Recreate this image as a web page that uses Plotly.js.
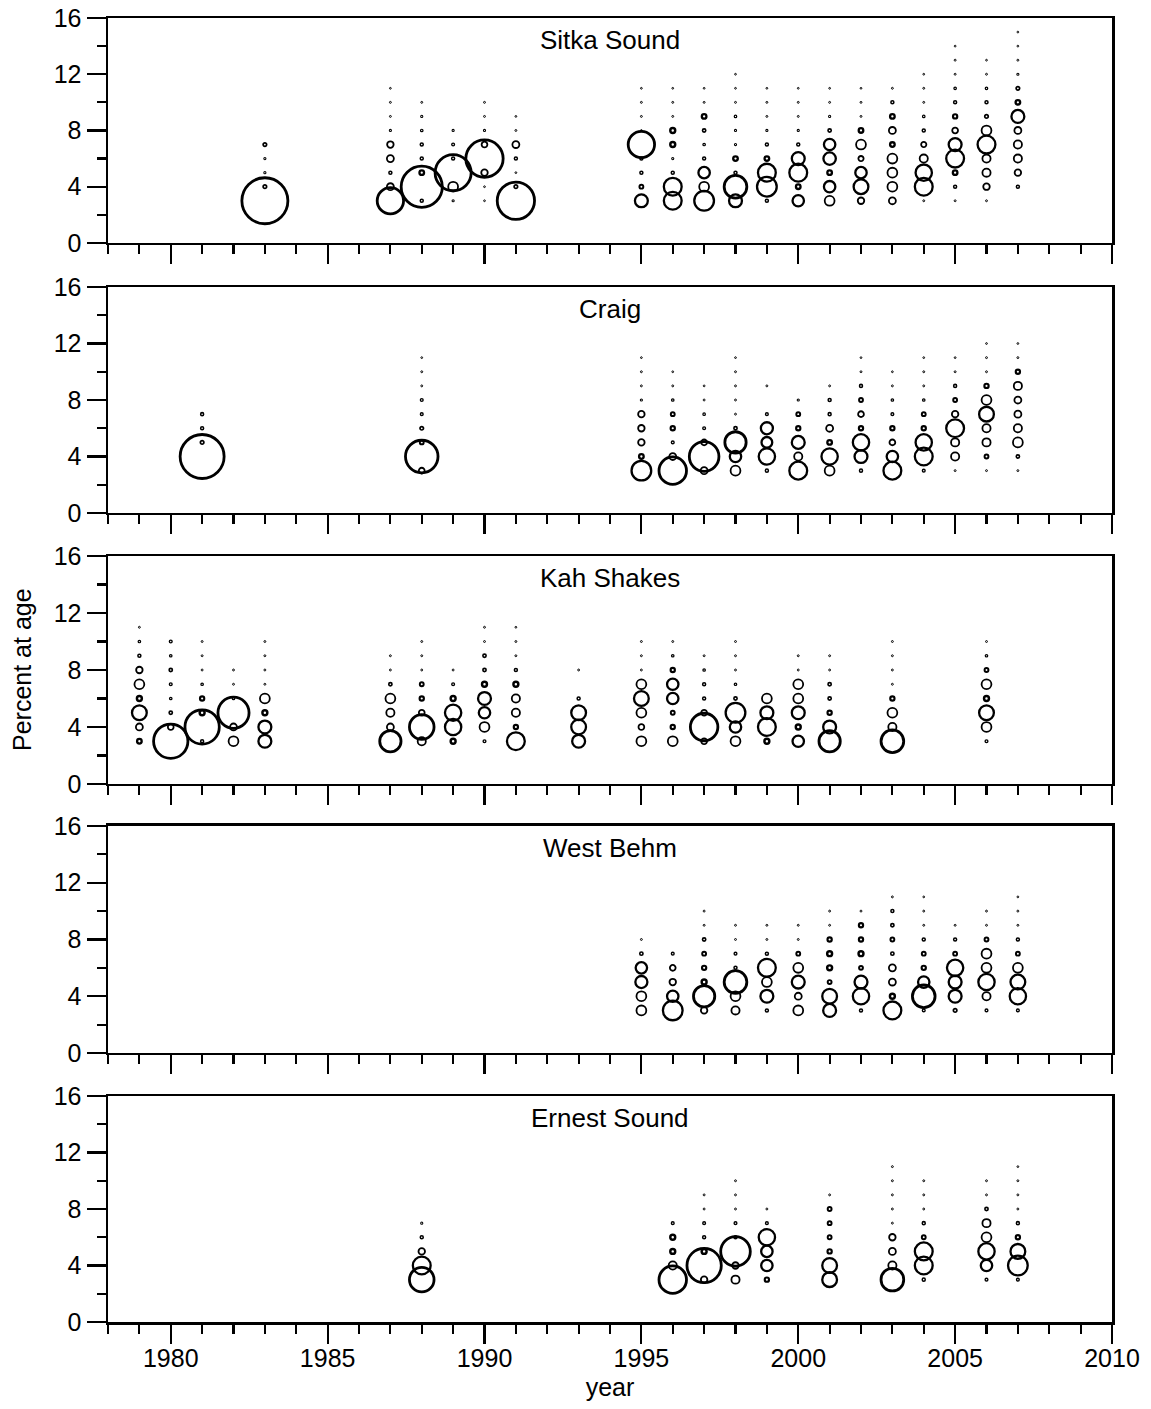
<!DOCTYPE html>
<html><head><meta charset="utf-8">
<script src="https://cdn.plot.ly/plotly-3.0.1.min.js"></script>
<style>body{margin:0;background:#fff}#chart{width:1151px;height:1409px}</style>
</head><body><div id="chart"></div>
<script>
// Age composition (percent at age), each inner list starts at age 3
const firstAge = 3;
const panelNames = ['Sitka Sound', 'Craig', 'Kah Shakes', 'West Behm', 'Ernest Sound'];

const sitkaYears = [1983, 1987, 1988, 1989, 1990, 1991, 1995, 1996, 1997, 1998, 1999, 2000, 2001, 2002, 2003, 2004, 2005, 2006, 2007];
const sitkaPct = [
  [70, 0.4, 0.15, 0.15, 0.4],
  [23, 1.6, 0.3, 1.6, 1.4, 0.15, 0.12, 0.12, 0.1],
  [0.3, 56, 0.7, 0.3, 0.3, 0.2, 0.15, 0.12],
  [0.15, 3.2, 43, 0.3, 0.25, 0.15],
  [0.1, 0.1, 1.4, 46, 1.1, 0.15, 0.12, 0.12],
  [46, 0.4, 0.1, 0.3, 1.6, 0.12, 0.1],
  [5.5, 0.5, 0.3, 0.3, 23, 0.1, 0.12, 0.12, 0.1],
  [10.5, 10.5, 0.3, 0.15, 0.8, 0.8, 0.12, 0.12, 0.1],
  [12.8, 3.2, 4.3, 0.3, 0.2, 0.35, 0.7, 0.12, 0.1],
  [5.5, 17, 0.3, 0.7, 0.15, 0.15, 0.2, 0.12, 0.1, 0.1],
  [0.3, 12.8, 10.5, 0.7, 0.3, 0.15, 0.12, 0.12, 0.1],
  [4.3, 0.7, 10.5, 5.5, 0.3, 0.15, 0.12, 0.12, 0.1],
  [3.2, 4.3, 0.7, 5.1, 4.3, 0.35, 0.15, 0.12, 0.1],
  [1.4, 7.2, 4.3, 0.9, 3.2, 0.7, 0.12, 0.12, 0.1],
  [1.6, 3.2, 3.2, 3.2, 0.7, 1.6, 0.7, 0.3, 0.12],
  [0.12, 10.5, 8.8, 2.2, 0.9, 0.3, 0.2, 0.12, 0.12, 0.1],
  [0.12, 0.3, 0.7, 10.5, 5.5, 1.1, 0.6, 0.3, 0.2, 0.12, 0.12, 0.1],
  [0.12, 1.4, 2.2, 2.2, 10.5, 3.2, 0.4, 0.3, 0.2, 0.12, 0.1],
  [0, 0.3, 1.4, 2.2, 2.2, 1.6, 5.5, 0.7, 0.4, 0.15, 0.12, 0.1, 0.1]
];

const craigYears = [1981, 1988, 1995, 1996, 1997, 1998, 1999, 2000, 2001, 2002, 2003, 2004, 2005, 2006, 2007];
const craigPct = [
  [0, 64, 0.4, 0.3, 0.3],
  [1.1, 35, 0.5, 0.4, 0.25, 0.25, 0.12, 0.12, 0.1],
  [12.8, 0.7, 1.4, 1.4, 1.4, 0.15, 0.12, 0.12, 0.1],
  [25, 1.6, 0.25, 0.6, 0.5, 0.2, 0.12, 0.1],
  [1.6, 29, 1.1, 0.25, 0.2, 0.12, 0.1],
  [3.2, 4.3, 15, 0.35, 0.12, 0.12, 0.12, 0.12, 0.1],
  [0.3, 8.8, 3.8, 4.8, 0.25, 0, 0.12],
  [10.5, 2.2, 5.5, 0.6, 0.5, 0.15],
  [3.2, 8.8, 0.7, 1.6, 0.3, 0.3, 0.12],
  [0.3, 5.5, 8.8, 0.6, 1.1, 0.5, 0.3, 0.12, 0.1],
  [10.5, 4.3, 1.1, 0.6, 0.25, 0.2, 0.12, 0.1],
  [0.25, 10.5, 8.8, 0.6, 0.5, 0.2, 0.12, 0.12, 0.1],
  [0.12, 2.2, 2.2, 10.5, 1.4, 0.5, 0.3, 0.12, 0.1],
  [0.12, 0.5, 2.2, 2.2, 7.2, 3.2, 0.6, 0.12, 0.12, 0.1],
  [0.12, 0.35, 3.2, 2.2, 1.6, 1.6, 2.2, 0.6, 0.12, 0.1]
];

const kahYears = [1979, 1980, 1981, 1982, 1983, 1987, 1988, 1989, 1990, 1991, 1993, 1995, 1996, 1997, 1998, 1999, 2000, 2001, 2003, 2006];
const kahPct = [
  [0.7, 1.6, 7.2, 0.8, 3.2, 1.4, 0.3, 0.2, 0.12],
  [39, 1.1, 0.35, 0.2, 0.25, 0.35, 0.2, 0.25],
  [0.3, 39, 0.8, 0.6, 0.2, 0.12, 0.12, 0.12],
  [3.2, 1.6, 32, 0.2, 0.12, 0.12],
  [5.5, 5.5, 0.8, 3.2, 0.12, 0.12, 0.12, 0.12],
  [15, 1.6, 2.2, 3.2, 0.35, 0.12, 0.12],
  [2.2, 20, 1.1, 0.6, 0.5, 0.12, 0.12, 0.12],
  [0.8, 8.8, 8.8, 0.8, 0.25, 0.12],
  [0.25, 3.2, 4.3, 5.5, 0.8, 0.35, 0.35, 0.12, 0.12],
  [10.5, 0.6, 2.2, 2.2, 0.8, 0.3, 0.12, 0.12, 0.1],
  [5.5, 7.2, 7.2, 0.3, 0, 0.12],
  [3.2, 1.1, 3.2, 7.2, 3.2, 0.12, 0.12, 0.12],
  [3.2, 0.6, 0.5, 4.3, 4.3, 0.6, 0.2, 0.12],
  [1.1, 25, 1.1, 0.3, 0.3, 0.2, 0.12],
  [3.2, 4.3, 12.8, 0.35, 0.2, 0.12, 0.12, 0.12],
  [0.8, 10.5, 5.5, 3.2],
  [4.3, 0.8, 5.5, 3.2, 3.2, 0.12, 0.12],
  [15, 5.5, 0.6, 0.35, 0.35, 0.12, 0.12],
  [17, 2.2, 3.2, 0.6, 0.12, 0.12, 0.12, 0.12],
  [0.25, 3.2, 7.2, 0.8, 3.2, 0.5, 0.2, 0.12]
];

const behmYears = [1995, 1996, 1997, 1998, 1999, 2000, 2001, 2002, 2003, 2004, 2005, 2006, 2007];
const behmPct = [
  [3.2, 3.2, 4.8, 4.3, 0.35, 0.12],
  [12.8, 4.3, 1.4, 1.1, 0.25],
  [1.4, 15, 0.8, 0.6, 0.5, 0.35, 0.12, 0.12],
  [2.2, 3.2, 17, 0.3, 0.25, 0.12, 0.12],
  [0.3, 5.5, 3.2, 10.5, 0.3, 0.12, 0.12],
  [3.2, 1.6, 5.5, 3.2, 0.5, 0.12, 0.12],
  [5.5, 7.2, 0.5, 0.8, 0.8, 0.6, 0.12, 0.12],
  [0.3, 8.8, 5.5, 0.5, 0.8, 0.6, 0.6, 0.12],
  [10.5, 0.8, 1.6, 1.6, 0.35, 0.5, 0.35, 0.3, 0.12],
  [0.25, 17, 4.3, 0.6, 0.5, 0.3, 0.12, 0.12, 0.1],
  [0.4, 5.5, 5.5, 8.8, 0.5, 0.3, 0.12],
  [0.25, 2.2, 8.8, 3.2, 3.2, 0.5, 0.12, 0.12],
  [0.25, 8.8, 7.2, 3.2, 0.5, 0.3, 0.12, 0.12, 0.1]
];

const ernestYears = [1988, 1996, 1997, 1998, 1999, 2001, 2003, 2004, 2006, 2007];
const ernestPct = [
  [20, 10.5, 1.4, 0.3, 0.15],
  [25, 2.2, 0.8, 0.8, 0.25],
  [1.4, 39, 0.8, 0.3, 0.25, 0.12, 0.12],
  [2.2, 1.4, 29, 0.3, 0.25, 0.12, 0.12, 0.12],
  [0.6, 4.3, 4.3, 8.8, 0.25, 0.12],
  [7.2, 7.2, 0.6, 0.5, 0.5, 0.5, 0.12],
  [17, 2.2, 1.6, 1.4, 0.12, 0.12, 0.12, 0.12, 0.12],
  [0.3, 10.5, 10.5, 0.5, 0.3, 0.12, 0.12, 0.12],
  [0.25, 4.3, 8.8, 3.2, 2.2, 0.35, 0.12, 0.12],
  [0.25, 12.8, 7.2, 0.6, 0.3, 0.12, 0.12, 0.12, 0.1]
];

const yearTicks = [1980, 1985, 1990, 1995, 2000, 2005, 2010];
const ageTicks = [0, 4, 8, 12, 16];

// ---------- build figure ----------
const panelYears = [sitkaYears, craigYears, kahYears, behmYears, ernestYears];
const panelPct = [sitkaPct, craigPct, kahPct, behmPct, ernestPct];
const domains = [[0.8275, 1.0], [0.6204, 0.7937], [0.4126, 0.5874], [0.2063, 0.3804], [0.0, 0.1733]];
const FONT = 'Liberation Sans, Arial, Helvetica, sans-serif';
const SCALE = 5.5;

const traces = [];
panelNames.forEach((name, i) => {
  const x = [], y = [], s = [], lw = [];
  panelYears[i].forEach((yr, j) => {
    panelPct[i][j].forEach((p, k) => {
      if (p > 0) {
        const d = SCALE * Math.sqrt(p);
        x.push(yr); y.push(firstAge + k); s.push(d);
        lw.push(d >= 20 ? 2.8 : d >= 10 ? 2.3 : d >= 5 ? 1.8 : Math.max(1.0, d * 0.5));
      }
    });
  });
  traces.push({
    type: 'scatter', mode: 'markers', x: x, y: y,
    xaxis: 'x' + (i + 1), yaxis: 'y' + (i + 1),
    marker: { symbol: 'circle-open', size: s, color: '#000', opacity: 1, line: { color: '#000', width: lw } },
    hoverinfo: 'skip', showlegend: false
  });
});

const layout = {
  width: 1151, height: 1409,
  margin: { l: 108, r: 39, t: 18, b: 87 },
  paper_bgcolor: '#fff', plot_bgcolor: '#fff',
  font: { family: FONT, size: 24, color: '#000' },
  showlegend: false,
  annotations: [],
  hovermode: false
};

panelNames.forEach((name, i) => {
  const n = i + 1;
  const last = i === panelNames.length - 1;
  layout['xaxis' + n] = {
    anchor: 'y' + n, domain: [0, 1], range: [1978, 2010],
    tickmode: 'array', tickvals: yearTicks, ticktext: yearTicks.map(String),
    showticklabels: last, ticks: 'outside', ticklen: 19, tickwidth: 2.2, tickcolor: '#000',
    ticklabelstandoff: -7,
    minor: { dtick: 1, tick0: 1978, ticks: 'outside', ticklen: 9, tickwidth: 2.2, tickcolor: '#000', showgrid: false },
    showline: true, linewidth: 2.5, linecolor: '#000', mirror: true,
    showgrid: false, zeroline: false, fixedrange: true,
    tickfont: { family: FONT, size: 25, color: '#000' },
    title: last ? { text: 'year', font: { family: FONT, size: 25, color: '#000' }, standoff: 8 } : { text: '' }
  };
  layout['yaxis' + n] = {
    anchor: 'x' + n, domain: domains[i], range: [0, 16],
    tickmode: 'array', tickvals: ageTicks, ticktext: ageTicks.map(String),
    ticks: 'outside', ticklen: 19, tickwidth: 2.2, tickcolor: '#000',
    minor: { dtick: 2, tick0: 0, ticks: 'outside', ticklen: 9, tickwidth: 2.2, tickcolor: '#000', showgrid: false },
    showline: true, linewidth: 2.5, linecolor: '#000', mirror: true,
    showgrid: false, zeroline: false, fixedrange: true,
    tickfont: { family: FONT, size: 25, color: '#000' }
  };
  layout.annotations.push({
    text: name, xref: 'paper', yref: 'paper', x: 0.5, y: domains[i][1] - 22 / 1304,
    xanchor: 'center', yanchor: 'middle', showarrow: false,
    font: { family: FONT, size: 26, color: '#000' }
  });
});

layout.annotations.push({
  text: 'Percent at age', xref: 'paper', yref: 'paper',
  x: -86 / 1004, y: (1322 - 670) / 1304, xanchor: 'center', yanchor: 'middle',
  textangle: -90, showarrow: false, font: { family: FONT, size: 25, color: '#000' }
});

Plotly.newPlot('chart', traces, layout, { staticPlot: true, displayModeBar: false });
</script>
</body></html>
